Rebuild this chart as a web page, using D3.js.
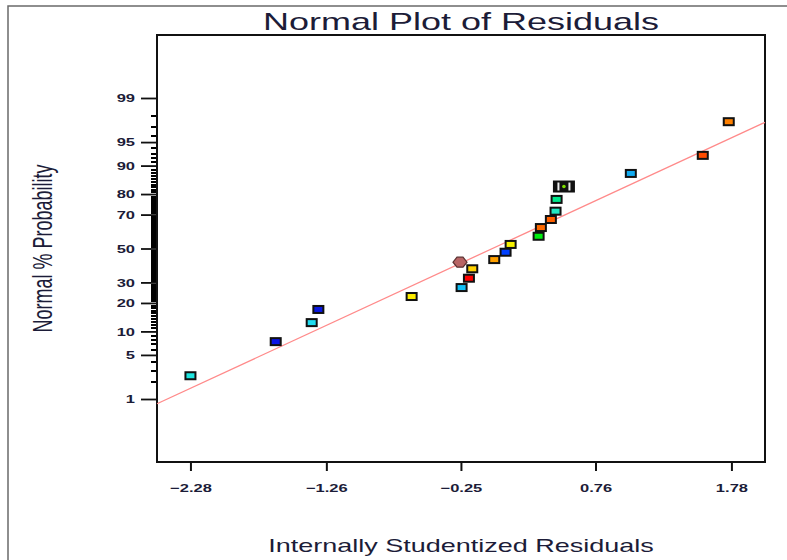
<!DOCTYPE html>
<html>
<head>
<meta charset="utf-8">
<script src="https://cdn.jsdelivr.net/npm/d3@7/dist/d3.min.js"></script>
<style>
  body { margin: 0; background: #fff; }
  text { font-family: "Liberation Sans", Arial, sans-serif; fill: #1c1c38; }
</style>
</head>
<body>
<script>
// residuals (x) and normal % probability (y)
const residuals   = [-2.28, -1.64, -1.37, -1.32, -0.62, -0.245, -0.19, -0.165, -0.257, 0.0, 0.085, 0.123, 0.333, 0.35, 0.425, 0.46, 0.468, 0.523, 1.025, 1.565, 1.76];
const probability = [2.46, 7.5, 12.6, 17.3, 22.9, 27.3, 32.3, 37.7, 41.6, 43.2, 47.7, 52.5, 57.5, 62.7, 67.3, 71.8, 77.6, 83.1, 87.7, 92.5, 97.5];
const pointColors = ["#1ee6e0", "#0a14e6", "#20dcf0", "#0a18e0", "#ffee00", "#10bff5", "#ff0000", "#ffd200", "#b86464", "#ffa000",
                     "#0040ff", "#f5f000", "#00ee10", "#ff6a00", "#ff6000", "#20e8c4", "#00e88c", "#7ee000", "#10aaf0", "#ff4c00", "#ff8000"];
const pointShapes = ["sq","sq","sq","sq","sq","sq","sq","sq","oct","sq","sq","sq","sq","sq","sq","sq","sq","cluster","sq","sq","sq"];

const xTicks = [-2.28, -1.26, -0.25, 0.76, 1.78];
const yTickLabels = [1, 5, 10, 20, 30, 50, 70, 80, 90, 95, 99];

// fitted line ends
const fitLineX = [-2.531, 2.032];
const fitLineP = [0.82, 97.44];

const width = 787, height = 560;
const box = { left: 157, right: 765, top: 35, bottom: 462 };
const stretch = 1.5; // the picture is wide, text looks stretched

// inverse normal cdf (Acklam)
function probit(p) {
  const a = [-3.969683028665376e+01, 2.209460984245205e+02, -2.759285104469687e+02, 1.383577518672690e+02, -3.066479806614716e+01, 2.506628277459239e+00];
  const b = [-5.447609879822406e+01, 1.615858368580409e+02, -1.556989798598866e+02, 6.680131188771972e+01, -1.328068155288572e+01];
  const c = [-7.784894002430293e-03, -3.223964580411365e-01, -2.400758277161838e+00, -2.549732539343734e+00, 4.374664141464968e+00, 2.938163982698783e+00];
  const d = [7.784695709041462e-03, 3.224671290700398e-01, 2.445134137142996e+00, 3.754408661907416e+00];
  const pl = 0.02425;
  let q, r;
  if (p < pl) {
    q = Math.sqrt(-2 * Math.log(p));
    return (((((c[0]*q+c[1])*q+c[2])*q+c[3])*q+c[4])*q+c[5]) / ((((d[0]*q+d[1])*q+d[2])*q+d[3])*q+1);
  } else if (p <= 1 - pl) {
    q = p - 0.5; r = q * q;
    return (((((a[0]*r+a[1])*r+a[2])*r+a[3])*r+a[4])*r+a[5])*q / (((((b[0]*r+b[1])*r+b[2])*r+b[3])*r+b[4])*r+1);
  }
  q = Math.sqrt(-2 * Math.log(1 - p));
  return -(((((c[0]*q+c[1])*q+c[2])*q+c[3])*q+c[4])*q+c[5]) / ((((d[0]*q+d[1])*q+d[2])*q+d[3])*q+1);
}

const x = d3.scaleLinear().domain([-2.531, 2.032]).range([box.left, box.right]);
const y = d3.scaleLinear().domain([-3.3, 3.3]).range([box.bottom, box.top]); // z scale
const yp = p => y(probit(p / 100));

const svg = d3.select("body").append("svg")
  .attr("width", width).attr("height", height);

// outer frame
svg.append("rect")
  .attr("x", 8).attr("y", 6).attr("width", 800).attr("height", 600)
  .attr("fill", "none").attr("stroke", "#6a6a6a").attr("stroke-width", 1.5);

// title
svg.append("text")
  .attr("transform", `translate(${(box.left + box.right) / 2},30) scale(${stretch},1)`)
  .attr("text-anchor", "middle")
  .style("font-size", "24px")
  .text("Normal Plot of Residuals");

// x axis
const xAxis = svg.append("g")
  .attr("transform", `translate(0,${box.bottom})`)
  .call(d3.axisBottom(x).tickValues(xTicks).tickSize(9).tickFormat(d3.format(".2f")));
xAxis.select(".domain").remove();
xAxis.selectAll(".tick line").attr("stroke", "#111").attr("stroke-width", 2);
xAxis.selectAll(".tick text")
  .attr("y", 0)
  .attr("dy", 0)
  .attr("transform", `translate(0,30) scale(${stretch},1)`)
  .style("font-size", "11px").style("font-weight", "bold")
  .attr("fill", "#1c1c38");

// y axis minor ticks, every percent
const minorP = d3.range(1, 100).filter(p => !yTickLabels.includes(p));
const yMinor = svg.append("g")
  .attr("transform", `translate(${box.left},0)`)
  .call(d3.axisLeft(y).tickValues(minorP.map(p => probit(p / 100))).tickSize(6).tickFormat(""));
yMinor.select(".domain").remove();
yMinor.selectAll(".tick line")
  .attr("stroke", "#000").attr("stroke-width", 2)
  .attr("shape-rendering", "crispEdges");

// y axis major ticks
const yAxis = svg.append("g")
  .attr("transform", `translate(${box.left},0)`)
  .call(d3.axisLeft(y).tickValues(yTickLabels.map(p => probit(p / 100))).tickSize(16)
    .tickFormat((d, i) => yTickLabels[i]));
yAxis.select(".domain").remove();
yAxis.selectAll(".tick line").attr("stroke", "#111").attr("stroke-width", 1.8);
yAxis.selectAll(".tick text")
  .attr("x", 0).attr("dy", "0.35em")
  .attr("transform", `translate(-22,0) scale(${stretch},1)`)
  .style("font-size", "11px").style("font-weight", "bold")
  .attr("fill", "#1c1c38");

// plot box
svg.append("rect")
  .attr("x", box.left).attr("y", box.top)
  .attr("width", box.right - box.left).attr("height", box.bottom - box.top)
  .attr("fill", "none").attr("stroke", "#111").attr("stroke-width", 2);

// fitted line
svg.append("line")
  .attr("x1", x(fitLineX[0])).attr("y1", yp(fitLineP[0]))
  .attr("x2", x(fitLineX[1])).attr("y2", yp(fitLineP[1]))
  .attr("stroke", "#ff8a8a").attr("stroke-width", 1.3);

// points
const pts = residuals.map((r, i) => ({ r, p: probability[i], c: pointColors[i], s: pointShapes[i] }));
const g = svg.append("g").selectAll("g").data(pts).enter().append("g")
  .attr("transform", d => `translate(${x(d.r)},${yp(d.p)})`);

g.filter(d => d.s === "sq").append("rect")
  .attr("x", -5).attr("y", -3.5).attr("width", 10).attr("height", 7)
  .attr("fill", d => d.c).attr("stroke", "#111").attr("stroke-width", 2);

g.filter(d => d.s === "oct").append("polygon")
  .attr("points", "-3,-5 3,-5 7,0 3,5 -3,5 -7,0")
  .attr("fill", d => d.c).attr("stroke", "#5a3030").attr("stroke-width", 1.2);

const cl = g.filter(d => d.s === "cluster");
cl.append("rect")
  .attr("x", -11).attr("y", -6).attr("width", 22).attr("height", 12)
  .attr("fill", "#111");
cl.append("rect").attr("x", -6.5).attr("y", -4).attr("width", 2).attr("height", 8).attr("fill", "#eee");
cl.append("rect").attr("x", 4.5).attr("y", -4).attr("width", 2).attr("height", 8).attr("fill", "#eee");
cl.append("circle").attr("r", 1.8).attr("fill", d => d.c);

// axis titles
svg.append("text")
  .attr("transform", `translate(${(box.left + box.right) / 2},552) scale(${stretch},1)`)
  .attr("text-anchor", "middle")
  .style("font-size", "18px")
  .text("Internally Studentized Residuals");

svg.append("text")
  .attr("transform", `translate(52,${(box.top + box.bottom) / 2}) scale(${stretch},1) rotate(-90)`)
  .attr("text-anchor", "middle")
  .style("font-size", "18px")
  .text("Normal % Probability");
</script>
</body>
</html>
